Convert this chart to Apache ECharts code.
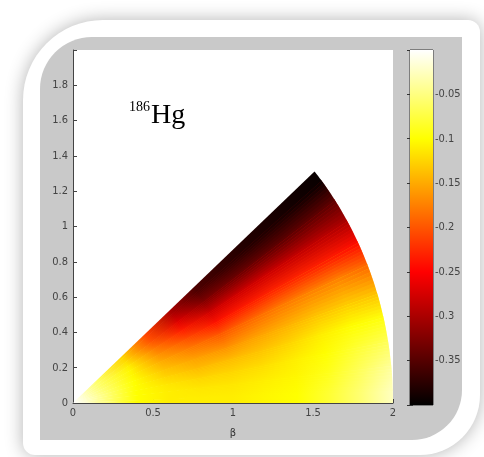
<!DOCTYPE html>
<html>
<head>
<meta charset="utf-8">
<script src="https://cdn.jsdelivr.net/npm/echarts@6/dist/echarts.min.js"></script>
<style>
  html, body { margin: 0; padding: 0; background: #fff; }
  #chart { width: 484px; height: 457px; }
</style>
</head>
<body>
<div id="chart"></div>
<script>
// beta (radius) samples along every gamma row
const betaSteps = [0, 0.2, 0.4, 0.6, 0.8, 1.0, 1.2, 1.4, 1.6, 1.8, 2.0]
// gamma (deg) of each row, wedge ends at gammaMax
const gammaRows = [2, 6, 10, 14, 18, 23, 27, 31, 35, 39]
const gammaMax = 41
const betaMax = 2

// energy, one row per gamma
const rowG2 = [0, -0.05, -0.10, -0.11, -0.11, -0.11, -0.105, -0.10, -0.08, -0.055, -0.025]
const rowG6 = [0, -0.05, -0.10, -0.11, -0.115, -0.115, -0.11, -0.105, -0.09, -0.065, -0.04]
const rowG10 = [0, -0.05, -0.10, -0.115, -0.125, -0.125, -0.12, -0.11, -0.10, -0.08, -0.065]
const rowG14 = [0, -0.05, -0.10, -0.125, -0.14, -0.14, -0.135, -0.125, -0.11, -0.10, -0.095]
const rowG18 = [0, -0.055, -0.10, -0.135, -0.155, -0.165, -0.155, -0.145, -0.135, -0.13, -0.135]
const rowG23 = [0, -0.055, -0.105, -0.15, -0.18, -0.2, -0.19, -0.18, -0.175, -0.175, -0.19]
const rowG27 = [0, -0.06, -0.105, -0.165, -0.205, -0.24, -0.235, -0.23, -0.23, -0.235, -0.245]
const rowG31 = [0, -0.06, -0.11, -0.18, -0.235, -0.28, -0.28, -0.28, -0.285, -0.29, -0.30]
const rowG35 = [0, -0.06, -0.12, -0.2, -0.27, -0.325, -0.335, -0.34, -0.345, -0.345, -0.345]
const rowG39 = [0, -0.065, -0.125, -0.21, -0.30, -0.355, -0.37, -0.38, -0.385, -0.39, -0.395]
const energyRows = [rowG2, rowG6, rowG10, rowG14, rowG18, rowG23, rowG27, rowG31, rowG35, rowG39]

// colour bar range and tick labels
const cbRange = [-0.4, 0]
const cbTicks = [-0.35, -0.3, -0.25, -0.2, -0.15, -0.1, -0.05]
const xTicks = [0, 0.5, 1, 1.5, 2]
const yTicks = [0, 0.2, 0.4, 0.6, 0.8, 1, 1.2, 1.4, 1.6, 1.8]

const numFont = '"Liberation Sans Narrow", "DejaVu Sans Condensed", "Liberation Sans", sans-serif'
const blendSteps = 8

// matlab 'hot' colormap
function hot(v) {
  let t = (v - cbRange[0]) / (cbRange[1] - cbRange[0])
  t = Math.max(0, Math.min(1, t))
  const r = Math.min(1, t / 0.375)
  const g = Math.max(0, Math.min(1, (t - 0.375) / 0.375))
  const b = Math.max(0, Math.min(1, (t - 0.75) / 0.25))
  return 'rgb(' + Math.round(r * 255) + ',' + Math.round(g * 255) + ',' + Math.round(b * 255) + ')'
}

// one polygon sector between angles lo..hi filled along beta with a row's colours
function wedge(api, lo, hi, row, opacity) {
  const rad = Math.PI / 180
  const p0 = api.coord([0, 0])
  const pts = [p0]
  const n = 6
  for (let k = 0; k <= n; k++) {
    const a = (lo + (hi - lo) * k / n) * rad
    pts.push(api.coord([betaMax * Math.cos(a), betaMax * Math.sin(a)]))
  }
  const mid = (lo + hi) / 2 * rad
  const p1 = api.coord([betaMax * Math.cos(mid), betaMax * Math.sin(mid)])
  const stops = row.map((v, i) => ({ offset: betaSteps[i] / betaMax, color: hot(v) }))
  return {
    type: 'polygon',
    shape: { points: pts },
    style: {
      fill: new echarts.graphic.LinearGradient(p0[0], p0[1], p1[0], p1[1], stops, true),
      opacity: opacity
    }
  }
}

// shading between neighbouring rows: row j underneath, row j+1 laid over with rising opacity
function band(api, j) {
  const last = gammaRows.length - 1
  if (j === 0) return [wedge(api, 0, gammaRows[0] + 0.3, energyRows[0], 1)]
  if (j === last + 1) return [wedge(api, gammaRows[last], gammaMax, energyRows[last], 1)]
  const lo = gammaRows[j - 1]
  const hi = gammaRows[j]
  const parts = [wedge(api, lo, hi + 0.3, energyRows[j - 1], 1)]
  const d = (hi - lo) / blendSteps
  for (let k = 0; k < blendSteps; k++) {
    parts.push(wedge(api, lo + k * d, lo + (k + 1) * d, energyRows[j], (k + 0.5) / blendSteps))
  }
  return parts
}

const chart = echarts.init(document.getElementById('chart'))

chart.setOption({
  backgroundColor: '#fff',
  animation: false,
  graphic: [
    {
      type: 'rect', z: -20,
      shape: { x: 23, y: 20, width: 457, height: 435, r: [80, 12, 60, 12] },
      style: { fill: '#fff', shadowBlur: 18, shadowColor: 'rgba(0,0,0,0.3)' }
    },
    {
      type: 'rect', z: -10,
      shape: { x: 40, y: 37, width: 422, height: 403, r: [52, 0, 50, 0] },
      style: { fill: '#c9c9c9' }
    },
    {
      type: 'text', z: 100, left: 129, top: 100,
      style: { text: '186', font: '14px "Liberation Serif", serif', fill: '#000' }
    },
    {
      type: 'text', z: 100, left: 151, top: 102,
      style: { text: 'Hg', font: '28px "Liberation Serif", serif', fill: '#000' }
    }
  ],
  grid: [
    { left: 73, top: 50, width: 320, height: 353, show: true, backgroundColor: '#fff', borderWidth: 0 },
    { left: 410, top: 50, width: 23, height: 355, show: true, backgroundColor: '#fff', borderColor: '#333', borderWidth: 1 }
  ],
  xAxis: [
    {
      gridIndex: 0, type: 'value', min: 0, max: 2, interval: 0.5,
      name: 'β', nameLocation: 'middle', nameGap: 25,
      nameTextStyle: { color: '#333', fontSize: 11, fontFamily: numFont },
      axisLine: { show: true, lineStyle: { color: '#444', width: 1 } },
      axisTick: { show: true, inside: true, length: 4, lineStyle: { color: '#444' } },
      axisLabel: {
        color: '#444', fontSize: 11, fontFamily: numFont, margin: 5,
        formatter: v => xTicks.indexOf(+v.toFixed(2)) >= 0 ? String(+v.toFixed(2)) : ''
      },
      splitLine: { show: false }
    },
    { gridIndex: 1, type: 'value', min: 0, max: 1, show: false }
  ],
  yAxis: [
    {
      gridIndex: 0, type: 'value', min: 0, max: 2, interval: 0.2,
      axisLine: { show: true, lineStyle: { color: '#444', width: 1 } },
      axisTick: { show: true, inside: true, length: 4, lineStyle: { color: '#444' } },
      axisLabel: {
        color: '#444', fontSize: 11, fontFamily: numFont, margin: 5,
        formatter: v => yTicks.indexOf(+v.toFixed(2)) >= 0 ? String(+v.toFixed(2)) : ''
      },
      splitLine: { show: false }
    },
    {
      gridIndex: 1, type: 'value', position: 'right', min: -0.4, max: 0, interval: 0.05,
      axisLine: { show: false },
      axisTick: { show: true, inside: true, length: 3, lineStyle: { color: '#333' } },
      axisLabel: {
        color: '#444', fontSize: 11, fontFamily: numFont, margin: 2,
        formatter: v => cbTicks.indexOf(+v.toFixed(2)) >= 0 ? String(+v.toFixed(2)) : ''
      },
      splitLine: { show: false }
    },
    {
      gridIndex: 1, type: 'value', position: 'left', min: -0.4, max: 0, interval: 0.05,
      axisLine: { show: false },
      axisTick: { show: true, inside: true, length: 3, lineStyle: { color: '#333' } },
      axisLabel: { show: false },
      splitLine: { show: false }
    }
  ],
  series: [
    {
      // energy surface, drawn band by band between gamma rows
      type: 'custom', xAxisIndex: 0, yAxisIndex: 0, clip: true, silent: true,
      data: gammaRows.concat([gammaMax]).map((g, j) => [0, 0, j]),
      renderItem: (params, api) => ({ type: 'group', children: band(api, params.dataIndex) })
    },
    {
      // colour bar
      type: 'custom', xAxisIndex: 1, yAxisIndex: 1, silent: true,
      data: [[0, 0]],
      renderItem: (params, api) => {
        const a = api.coord([0, cbRange[1]])
        const b = api.coord([1, cbRange[0]])
        const stops = []
        for (let k = 0; k <= 8; k++) {
          const v = cbRange[1] - (cbRange[1] - cbRange[0]) * k / 8
          stops.push({ offset: k / 8, color: hot(v) })
        }
        return {
          type: 'rect',
          shape: { x: a[0], y: a[1], width: b[0] - a[0], height: b[1] - a[1] },
          style: { fill: new echarts.graphic.LinearGradient(0, 0, 0, 1, stops) }
        }
      }
    }
  ]
})
</script>
</body>
</html>
